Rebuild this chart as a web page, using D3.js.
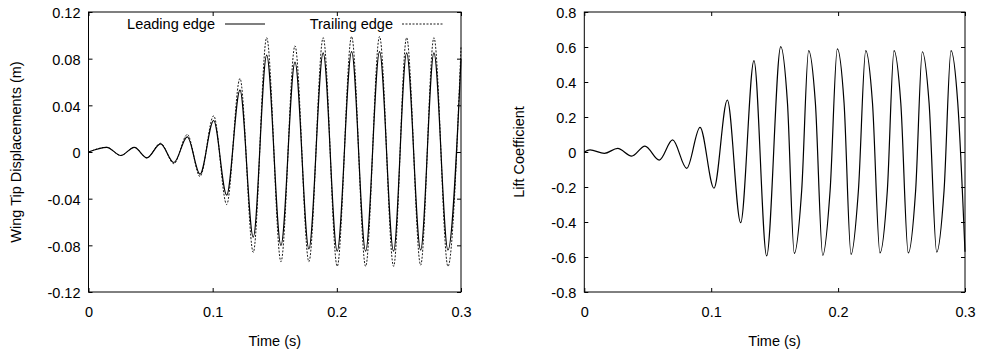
<!DOCTYPE html>
<html>
<head>
<meta charset="utf-8">
<script src="https://cdn.jsdelivr.net/npm/d3@7"></script>
<style>
  body { margin: 0; background: #fff; }
  svg text { font-family: 'Liberation Sans', Arial, sans-serif; font-size: 14.5px; fill: #000; }
</style>
</head>
<body>
<svg id="chart" width="981" height="355"></svg>
<script>
// axis ticks
var timeTicks = [0, 0.1, 0.2, 0.3];
var dispTicks = [-0.12, -0.08, -0.04, 0, 0.04, 0.08, 0.12];
var liftTicks = [-0.8, -0.6, -0.4, -0.2, 0, 0.2, 0.4, 0.6, 0.8];

// wing tip displacement
var dispTime = [0, 0.0147, 0.026, 0.0369, 0.047, 0.058, 0.0688, 0.0796, 0.0898, 0.1008,
  0.1113, 0.122, 0.1327, 0.1435, 0.155, 0.1663, 0.1775, 0.189, 0.2003, 0.2119,
  0.2232, 0.2344, 0.2457, 0.2562, 0.2675, 0.2782, 0.2895, 0.3];
var leadingEdge = [0, 0.004, -0.003, 0.004, -0.005, 0.007, -0.009, 0.013, -0.019, 0.027,
  -0.037, 0.053, -0.073, 0.083, -0.080, 0.077, -0.083, 0.085, -0.085, 0.086,
  -0.085, 0.086, -0.085, 0.085, -0.084, 0.085, -0.084, 0.080];
var trailingEdge = [0, 0.004, -0.003, 0.004, -0.005, 0.0075, -0.010, 0.015, -0.021, 0.031,
  -0.045, 0.063, -0.086, 0.098, -0.094, 0.091, -0.094, 0.098, -0.098, 0.099,
  -0.098, 0.099, -0.098, 0.098, -0.097, 0.098, -0.098, 0.090];

// lift coefficient, peaks, troughs and the shoulders on the big swings
var liftTime = [0, 0.0045, 0.0158, 0.0263, 0.0373, 0.0478, 0.0591, 0.0696, 0.0807, 0.0912,
  0.1022, 0.1127, 0.1232, 0.1337, 0.1437, 0.1548, 0.1601, 0.1655, 0.1713, 0.1768,
  0.1821, 0.1879, 0.1937, 0.1994, 0.2047, 0.2102, 0.2160, 0.2218, 0.2271, 0.2330,
  0.2388, 0.2441, 0.2494, 0.2553, 0.2611, 0.2664, 0.2717, 0.2777, 0.2835, 0.2890,
  0.2943, 0.3];
var liftValue = [0, 0.012, -0.008, 0.021, -0.023, 0.034, -0.046, 0.069, -0.093, 0.141,
  -0.207, 0.297, -0.404, 0.522, -0.594, 0.602, 0.28, -0.579, -0.22, 0.579,
  0.28, -0.590, -0.22, 0.589, 0.28, -0.585, -0.22, 0.579, 0.28, -0.577,
  -0.22, 0.579, 0.28, -0.577, -0.22, 0.573, 0.28, -0.572, -0.22, 0.579,
  0.28, -0.57];

var svg = d3.select('#chart');
var plotTop = 12, plotBottom = 292, tick = 4;

function fmt(d) {
  return d === 0 ? '0' : String(+d.toFixed(2));
}

function drawPanel(left, right, yDomain, yTicks, yTitle, titleX) {
  var x = d3.scaleLinear().domain([0, 0.3]).range([left, right]);
  var y = d3.scaleLinear().domain(yDomain).range([plotBottom, plotTop]);

  var g = svg.append('g');

  // ticks on all four sides, pointing inward like gnuplot
  g.append('g')
    .attr('class', 'xaxis')
    .attr('transform', 'translate(0,' + plotBottom + ')')
    .call(d3.axisBottom(x).tickValues(timeTicks).tickFormat(fmt).tickSize(-tick).tickPadding(15));
  g.append('g')
    .attr('transform', 'translate(0,' + plotTop + ')')
    .call(d3.axisTop(x).tickValues(timeTicks).tickFormat('').tickSize(-tick));
  g.append('g')
    .attr('class', 'yaxis')
    .attr('transform', 'translate(' + left + ',0)')
    .call(d3.axisLeft(y).tickValues(yTicks).tickFormat(fmt).tickSize(-tick).tickPadding(8));
  g.append('g')
    .attr('transform', 'translate(' + right + ',0)')
    .call(d3.axisRight(y).tickValues(yTicks).tickFormat('').tickSize(-tick));

  g.selectAll('.domain').remove();
  g.selectAll('.tick line').attr('stroke', '#000');
  g.selectAll('g').attr('font-size', null).attr('font-family', null);
  g.selectAll('.tick text').attr('fill', '#000');
  g.selectAll('.yaxis .tick text').attr('dy', '0.4em');

  g.append('rect')
    .attr('x', left)
    .attr('y', plotTop)
    .attr('width', right - left)
    .attr('height', plotBottom - plotTop)
    .attr('fill', 'none')
    .attr('stroke', '#000')
    .attr('stroke-width', 1);

  g.append('text')
    .attr('x', (left + right) / 2)
    .attr('y', 346)
    .attr('text-anchor', 'middle')
    .text('Time (s)');

  g.append('text')
    .attr('transform', 'translate(' + titleX + ',' + (plotTop + plotBottom) / 2 + ') rotate(-90)')
    .attr('text-anchor', 'middle')
    .text(yTitle);

  return { x: x, y: y, g: g };
}

function series(xs, ys) {
  return xs.map(function(t, i) { return { t: t, v: ys[i] }; });
}

// left: wing tip displacements
var p1 = drawPanel(88.5, 461, [-0.12, 0.12], dispTicks, 'Wing Tip Displacements (m)', 21);
var line1 = d3.line()
  .x(function(d) { return p1.x(d.t); })
  .y(function(d) { return p1.y(d.v); })
  .curve(d3.curveMonotoneX);

p1.g.append('path')
  .datum(series(dispTime, trailingEdge))
  .attr('d', line1)
  .attr('fill', 'none')
  .attr('stroke', '#000')
  .attr('stroke-width', 0.9)
  .attr('stroke-dasharray', '2,1.5');

p1.g.append('path')
  .datum(series(dispTime, leadingEdge))
  .attr('d', line1)
  .attr('fill', 'none')
  .attr('stroke', '#000')
  .attr('stroke-width', 1.2);

// legend
var legend = p1.g.append('g');
legend.append('text').attr('x', 215).attr('y', 29).attr('text-anchor', 'end').text('Leading edge');
legend.append('line').attr('x1', 225).attr('x2', 265).attr('y1', 24).attr('y2', 24)
  .attr('stroke', '#000').attr('stroke-width', 1.2);
legend.append('text').attr('x', 393).attr('y', 29).attr('text-anchor', 'end').text('Trailing edge');
legend.append('line').attr('x1', 402).attr('x2', 443).attr('y1', 24).attr('y2', 24)
  .attr('stroke', '#000').attr('stroke-width', 0.9).attr('stroke-dasharray', '2,1.5');

// right: lift coefficient
var p2 = drawPanel(584.3, 965, [-0.8, 0.8], liftTicks, 'Lift Coefficient', 524);
var line2 = d3.line()
  .x(function(d) { return p2.x(d.t); })
  .y(function(d) { return p2.y(d.v); })
  .curve(d3.curveMonotoneX);

p2.g.append('path')
  .datum(series(liftTime, liftValue))
  .attr('d', line2)
  .attr('fill', 'none')
  .attr('stroke', '#000')
  .attr('stroke-width', 1.2);
</script>
</body>
</html>
